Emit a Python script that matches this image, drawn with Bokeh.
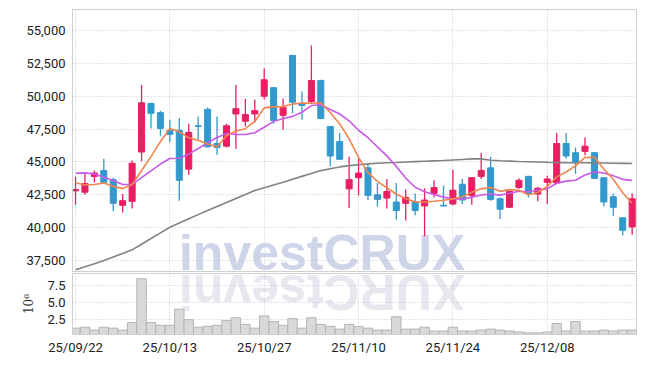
import numpy as np
from bokeh.plotting import figure
from bokeh.layouts import column
from bokeh.models import Range1d, FixedTicker, NumeralTickFormatter, PrintfTickFormatter, ColumnDataSource
from bokeh.core.properties import value
from bokeh.embed import file_html
from bokeh.resources import INLINE

# ---------------- data ----------------
tick_labels = ["25/09/22", "25/10/13", "25/10/27", "25/11/10", "25/11/24", "25/12/08"]
tick_index = [0, 10, 20, 30, 40, 50]
price_ticks = [37500, 40000, 42500, 45000, 47500, 50000, 52500, 55000]
vol_ticks = [2.5, 5.0, 7.5]

opens = [42800, 42700, 43900, 44350, 43650, 41700, 42000, 45750, 49450, 48750,
         47400, 47400, 44450, 47750, 49000, 46400, 46200, 48650, 48100, 48650,
         50000, 50650, 48550, 53100, 49450, 49600, 51200, 47700, 46550, 42950,
         43800, 44550, 42500, 42250, 41950, 41850, 41950, 41650, 42600, 41700,
         41800, 43300, 42450, 43900, 44550, 42200, 41550, 43050, 43900, 42550,
         43450, 43400, 46400, 45700, 45800, 45700, 43800, 42350, 40750, 40050]
closes = [42900, 43350, 44150, 43450, 41850, 42050, 44900, 49500, 48700, 47550,
          47100, 43600, 47250, 47700, 46150, 46100, 47750, 49050, 48600, 48900,
          51250, 48150, 49150, 49550, 49300, 51200, 48300, 45450, 45200, 43650,
          44150, 42450, 42150, 42750, 41300, 42300, 41300, 42100, 43050, 41650,
          42850, 42100, 43800, 44350, 42150, 41400, 42750, 43600, 42600, 43000,
          43700, 46400, 45450, 44950, 46200, 43750, 41950, 41550, 39800, 42200]
highs = [43900, 44200, 44350, 45250, 43800, 42550, 45100, 50850, 49500, 48900,
         48200, 48350, 47900, 48450, 49150, 48450, 47900, 50850, 49800, 49750,
         52100, 50650, 49800, 53150, 50350, 53850, 51250, 47700, 47200, 45400,
         45250, 44850, 43400, 43700, 43400, 42900, 42600, 43000, 43600, 43200,
         44400, 43700, 43800, 45700, 45400, 42300, 42750, 43750, 43950, 43100,
         43950, 47200, 47200, 46100, 46850, 45700, 43800, 42600, 40750, 42600]
lows = [41750, 42500, 43450, 43400, 41250, 41150, 41450, 45050, 47550, 47000,
        46500, 42050, 44000, 46700, 46100, 45550, 46100, 46000, 47700, 48000,
        49750, 47900, 47450, 48700, 48200, 49500, 48250, 44650, 45200, 41500,
        42450, 42100, 41600, 41450, 40600, 40550, 40950, 39350, 42300, 41600,
        41700, 41800, 41750, 43700, 42050, 40650, 41500, 42950, 42300, 42000,
        41800, 43350, 45250, 44100, 45500, 43750, 41600, 40900, 39400, 39450]
volumes_m = [1.25, 1.39, 0.97, 1.39, 1.25, 0.97, 2.08, 8.52, 2.08, 1.67,
             1.67, 4.03, 2.50, 1.39, 1.53, 1.67, 2.36, 2.78, 1.81, 1.25,
             3.06, 2.22, 1.67, 2.64, 1.25, 2.78, 1.81, 1.53, 1.11, 1.81,
             1.48, 1.25, 0.97, 0.97, 2.92, 1.11, 1.11, 1.39, 0.83, 0.83,
             1.39, 0.83, 0.83, 0.97, 1.11, 0.97, 0.83, 0.69, 0.56, 0.56,
             0.69, 1.94, 0.83, 2.22, 0.83, 0.83, 0.97, 0.83, 0.97, 0.97]
# moving-average values before enough in-window closes exist
ma5_head = [43410, 43250, 43280, 43400]
ma10_head = [44140, 44170, 44090, 43840, 43590, 43280, 43280, 43800, 44320]
ma60 = [36790, 37020, 37260, 37500, 37770, 38040, 38310, 38740, 39170, 39600,
        40030, 40350, 40670, 40990, 41300, 41610, 41920, 42220, 42520, 42830,
        43040, 43250, 43460, 43680, 43900, 44120, 44340, 44480, 44620, 44720,
        44790, 44850, 44900, 44940, 44960, 44990, 45020, 45050, 45080, 45110,
        45150, 45190, 45230, 45230, 45130, 45090, 45060, 45030, 45010, 44990,
        44970, 44955, 44945, 44940, 44935, 44930, 44915, 44900, 44890, 44880]

n = len(closes)
xs = list(range(n))


def rolling(head, period):
    out = list(head)
    for i in range(len(head), n):
        out.append(sum(closes[i - period + 1:i + 1]) / period)
    return out


ma5 = rolling(ma5_head, 5)
ma10 = rolling(ma10_head, 10)

UP, DOWN = "#e91e63", "#3399cc"
colors = [UP if c >= o else DOWN for o, c in zip(opens, closes)]
src = ColumnDataSource(dict(
    x=xs, o=opens, c=closes, h=highs, l=lows,
    top=[max(o, c) for o, c in zip(opens, closes)],
    bot=[min(o, c) for o, c in zip(opens, closes)],
    col=colors, vol=volumes_m, ma5=ma5, ma10=ma10, ma60=ma60))

FONT = "Roboto"
LABEL = "#222222"
GRID = "#c4c8da"
FRAME = "#cfcfcf"
WM_X = 26.13          # watermark centre (index units)
WM_PRICE_Y = 38070    # watermark centre in price panel
WM_VOL_Y = 6.6        # reflected watermark centre in volume panel

x_range = Range1d(-0.32, 59.46)

# ---------------- price panel ----------------
p = figure(width=638, height=272, x_range=x_range, y_range=Range1d(36586, 56598),
           output_backend="svg", toolbar_location=None,
           min_border_left=72, min_border_right=2, min_border_top=9, min_border_bottom=0)
p.background_fill_color = "white"
p.border_fill_color = "white"
p.outline_line_color = FRAME
p.xaxis.visible = False
p.xgrid.ticker = FixedTicker(ticks=tick_index)
p.yaxis.ticker = FixedTicker(ticks=price_ticks)
p.yaxis.formatter = NumeralTickFormatter(format="0,0")
p.yaxis.axis_line_color = FRAME
p.yaxis.major_tick_line_color = None
p.yaxis.minor_tick_line_color = None
p.yaxis.major_tick_out = 0
p.yaxis.major_label_standoff = 7
p.yaxis.major_label_text_font = FONT
p.yaxis.major_label_text_font_size = "13px"
p.yaxis.major_label_text_color = LABEL
p.grid.grid_line_color = GRID
p.grid.grid_line_dash = "1 2"

p.text(x=[WM_X], y=[WM_PRICE_Y], text=["investCRUX"], text_font=value("Liberation Sans"),
       text_font_style="bold", text_font_size="50px", text_color="#cfd5e8",
       text_align="center", text_baseline="middle", level="image")

p.segment(x0="x", y0="l", x1="x", y1="h", source=src, line_color="col", line_width=1.3)
p.vbar(x="x", width=0.64, top="top", bottom="bot", source=src,
       fill_color="col", line_color="col", line_width=1)
p.line("x", "ma60", source=src, line_color="#828282", line_width=1.6)
p.line("x", "ma10", source=src, line_color="#c95ae8", line_width=1.6)
p.line("x", "ma5", source=src, line_color="#f0844f", line_width=1.6)

# ---------------- volume panel ----------------
v = figure(width=638, height=85, x_range=x_range, y_range=Range1d(0.32, 9.28),
           output_backend="svg", toolbar_location=None,
           min_border_left=72, min_border_right=2, min_border_top=1, min_border_bottom=20)
v.background_fill_color = "white"
v.border_fill_color = "white"
v.outline_line_color = FRAME
v.text(x=[WM_X], y=[WM_VOL_Y], text=["XURCtsevni"], angle=np.pi, text_font=value("Liberation Sans"),
       text_font_style="bold", text_font_size="50px", text_color="#e7e7f0",
       text_align="center", text_baseline="middle", level="image")
v.vbar(x="x", width=1.0, top="vol", bottom=0, source=src,
       fill_color="#d9d9d9", line_color="#b4b4b4", line_width=1)

v.xaxis.ticker = FixedTicker(ticks=tick_index)
v.xaxis.major_label_overrides = {t: lab for t, lab in zip(tick_index, tick_labels)}
v.yaxis.ticker = FixedTicker(ticks=vol_ticks)
v.yaxis.formatter = PrintfTickFormatter(format="%.1f")
v.yaxis.axis_label = "10⁶"
v.yaxis.axis_label_text_font = "DejaVu Serif"
v.yaxis.axis_label_text_font_style = "normal"
v.yaxis.axis_label_text_font_size = "12px"
v.yaxis.axis_label_text_color = "#333333"
v.yaxis.axis_label_standoff = 8
for ax in (v.xaxis[0], v.yaxis[0]):
    ax.axis_line_color = FRAME
    ax.major_tick_line_color = None
    ax.minor_tick_line_color = None
    ax.major_tick_out = 0
    ax.major_label_text_font = FONT
    ax.major_label_text_font_size = "13px"
    ax.major_label_text_color = LABEL
v.xaxis.major_label_standoff = 5
v.yaxis.major_label_standoff = 7
v.grid.grid_line_color = GRID
v.grid.grid_line_dash = "1 2"

layout = column(p, v, spacing=0)
open("out.html", "w").write(file_html(layout, INLINE))
